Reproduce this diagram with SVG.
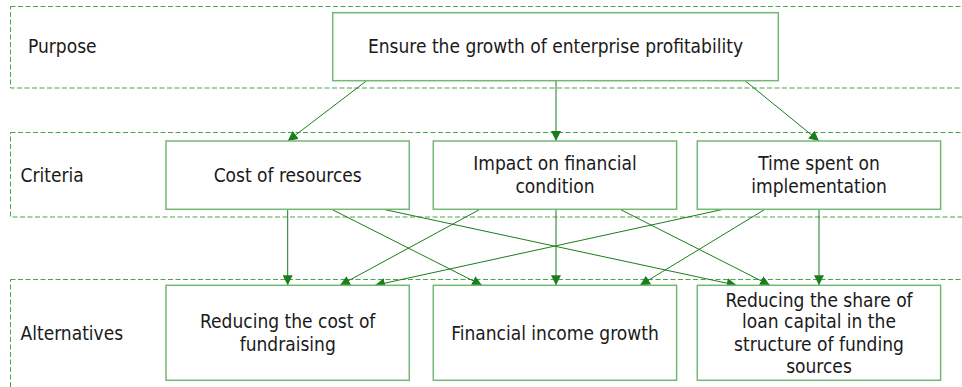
<svg xmlns="http://www.w3.org/2000/svg" width="962" height="387" viewBox="0 0 962 387">
  <style>
    .band { fill: none; stroke: #4aa54a; stroke-width: 1; stroke-dasharray: 5 2.5; }
    .box { fill: #ffffff; stroke: #74b874; stroke-width: 1.5; }
    .lbl { font-family: "DejaVu Sans Condensed", "DejaVu Sans", sans-serif; font-size: 19px; fill: #1a1a1a; }
    .ctr { text-anchor: middle; }
    .edge { fill: none; stroke: #1c7d1c; stroke-width: 1; marker-end: url(#arrow); }
  </style>
  <defs>
    <marker id="arrow" viewBox="0 0 10 10" refX="10" refY="5" markerWidth="10" markerHeight="10" markerUnits="userSpaceOnUse" orient="auto">
      <path d="M0,0 L10,5 L0,10 z" fill="#1c7d1c"/>
    </marker>
  </defs>
  <rect width="962" height="387" fill="#ffffff"/>

  <!-- level bands -->
  <g id="bands">
    <rect class="band" x="10.5" y="6.5" width="970" height="81.5"/>
    <rect class="band" x="10.5" y="132.5" width="970" height="84.5"/>
    <rect class="band" x="10.5" y="279.5" width="970" height="130"/>
    <text class="lbl" x="28" y="53">Purpose</text>
    <text class="lbl" x="20.5" y="182">Criteria</text>
    <text class="lbl" x="20.5" y="340">Alternatives</text>
  </g>

  <!-- connectors -->
  <g id="connectors">
    <line class="edge" x1="366.7" y1="80.7" x2="287.7" y2="141"/>
    <line class="edge" x1="556" y1="80.7" x2="556" y2="141"/>
    <line class="edge" x1="745" y1="80.7" x2="819" y2="141"/>

    <line class="edge" x1="287.7" y1="209.3" x2="287.7" y2="285.3"/>
    <line class="edge" x1="331.7" y1="209.3" x2="482" y2="285.3"/>
    <line class="edge" x1="383.3" y1="209.3" x2="736.7" y2="285.3"/>

    <line class="edge" x1="480" y1="209.3" x2="340" y2="285.3"/>
    <line class="edge" x1="556" y1="209.3" x2="556" y2="285.3"/>
    <line class="edge" x1="620" y1="209.3" x2="770" y2="285.3"/>

    <line class="edge" x1="723.3" y1="209.3" x2="375" y2="285.3"/>
    <line class="edge" x1="765" y1="209.3" x2="640" y2="285.3"/>
    <line class="edge" x1="819" y1="209.3" x2="819" y2="285.3"/>
  </g>

  <g id="purpose">
    <rect class="box" x="332.7" y="12.7" width="445.6" height="68"/>
    <text class="lbl ctr" x="555.5" y="53">Ensure the growth of enterprise profitability</text>
  </g>

  <g id="cost-of-resources">
    <rect class="box" x="166" y="141" width="243.3" height="68.3"/>
    <text class="lbl ctr" x="287.7" y="182">Cost of resources</text>
  </g>
  <g id="impact-on-financial-condition">
    <rect class="box" x="433.3" y="141" width="243.3" height="68.3"/>
    <text class="lbl ctr" x="555" y="170">Impact on financial</text>
    <text class="lbl ctr" x="555" y="192.7">condition</text>
  </g>
  <g id="time-spent-on-implementation">
    <rect class="box" x="697.3" y="141" width="243.3" height="68.3"/>
    <text class="lbl ctr" x="819" y="170">Time spent on</text>
    <text class="lbl ctr" x="819" y="192.7">implementation</text>
  </g>

  <g id="reducing-cost-of-fundraising">
    <rect class="box" x="166" y="285.3" width="243.3" height="95"/>
    <text class="lbl ctr" x="287.7" y="328.3">Reducing the cost of</text>
    <text class="lbl ctr" x="287.7" y="350.7">fundraising</text>
  </g>
  <g id="financial-income-growth">
    <rect class="box" x="433.3" y="285.3" width="243.3" height="95"/>
    <text class="lbl ctr" x="555" y="340">Financial income growth</text>
  </g>
  <g id="reducing-share-of-loan-capital">
    <rect class="box" x="697.3" y="285.3" width="243.3" height="95"/>
    <text class="lbl ctr" x="819" y="306.7">Reducing the share of</text>
    <text class="lbl ctr" x="819" y="328.3">loan capital in the</text>
    <text class="lbl ctr" x="819" y="350.7">structure of funding</text>
    <text class="lbl ctr" x="819" y="372.7">sources</text>
  </g>
</svg>
